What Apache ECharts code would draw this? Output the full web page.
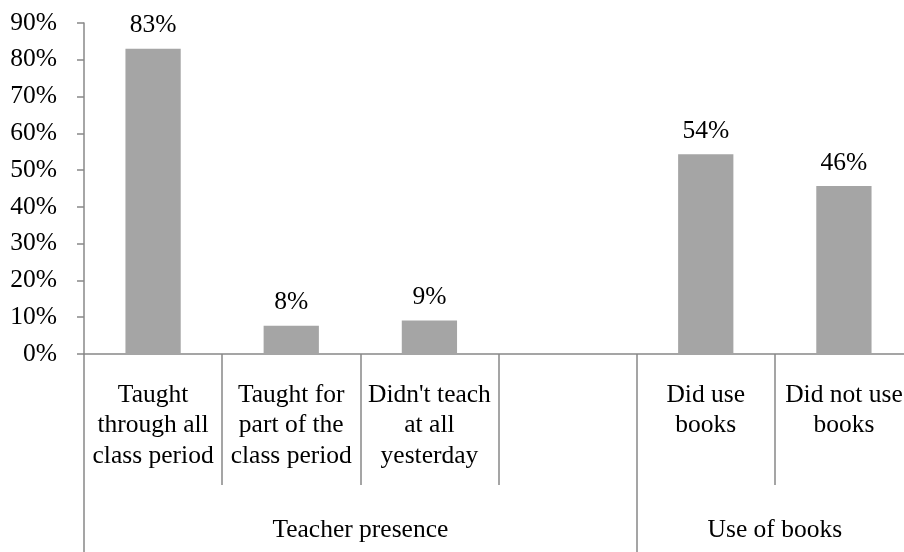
<!DOCTYPE html>
<html>
<head>
<meta charset="utf-8">
<script src="https://cdn.jsdelivr.net/npm/echarts@6/dist/echarts.min.js"></script>
<style>html,body{margin:0;padding:0;background:#fff;overflow:hidden}#c{width:904px;height:552px}</style>
</head>
<body>
<div id="c"></div>
<script>
var categories = ['Taught\nthrough all\nclass period', 'Taught for\npart of the\nclass period', "Didn't teach\nat all\nyesterday", '', 'Did use\nbooks', 'Did not use\nbooks'];
var values = [83, 7.7, 9.1, '-', 54.3, 45.7];
var groupNames = ['Teacher presence', 'Use of books'];
var groupSlots = [4, 2];
var yTicks = [0, 10, 20, 30, 40, 50, 60, 70, 80, 90];

// group axis: half-slot points, labels at group centers, ticks at group boundaries
var groupAxisData = [];
var groupLabelIdx = {};
var groupTickIdx = {0: true};
var pos = 0;
for (var g = 0; g < groupNames.length; g++) {
  var n = groupSlots[g] * 2;
  for (var k = 0; k < n; k++) groupAxisData.push(k === n / 2 ? groupNames[g] : '');
  groupLabelIdx[pos + n / 2] = true;
  pos += n;
  groupTickIdx[pos] = true;
}
groupAxisData.push('');

var FONT = '"Liberation Serif", "Times New Roman", serif';
var AXIS = '#888888';
var FS = 25.5;
var chart = echarts.init(document.getElementById('c'));
chart.setOption({
  animation: false,
  grid: {left: 84, top: 23, width: 829, height: 331, containLabel: false, outerBoundsMode: 'none'},
  xAxis: [{
    type: 'category',
    data: categories,
    position: 'bottom',
    axisLine: {show: true, lineStyle: {color: AXIS, width: 1.5}},
    axisTick: {show: true, length: 131, lineStyle: {color: AXIS, width: 1.5}},
    axisLabel: {interval: 0, margin: 26, fontFamily: FONT, fontSize: FS, color: '#000', lineHeight: 30.5, align: 'center'},
    splitLine: {show: false}
  }, {
    type: 'category',
    data: groupAxisData,
    position: 'bottom',
    boundaryGap: false,
    axisLine: {show: false},
    axisTick: {show: true, length: 198, interval: function (i) { return !!groupTickIdx[i]; }, lineStyle: {color: AXIS, width: 1.5}},
    axisLabel: {interval: function (i) { return !!groupLabelIdx[i]; }, margin: 163, fontFamily: FONT, fontSize: FS, color: '#000'},
    splitLine: {show: false}
  }],
  yAxis: {
    type: 'value',
    min: yTicks[0],
    max: yTicks[yTicks.length - 1],
    interval: 10,
    axisLine: {show: true, lineStyle: {color: AXIS, width: 1.5}},
    axisTick: {show: true, length: 7, lineStyle: {color: AXIS, width: 1.5}},
    axisLabel: {formatter: '{value}%', margin: 27, fontFamily: FONT, fontSize: FS, color: '#000', padding: [4, 0, 0, 0]},
    splitLine: {show: false}
  },
  series: [{
    type: 'bar',
    xAxisIndex: 0,
    data: values,
    barWidth: '40%',
    itemStyle: {color: '#a5a5a5'},
    label: {
      show: true, position: 'top', distance: 10,
      fontFamily: FONT, fontSize: FS, color: '#000',
      formatter: function (p) { return Math.round(p.value) + '%'; }
    }
  }]
});
</script>
</body>
</html>
